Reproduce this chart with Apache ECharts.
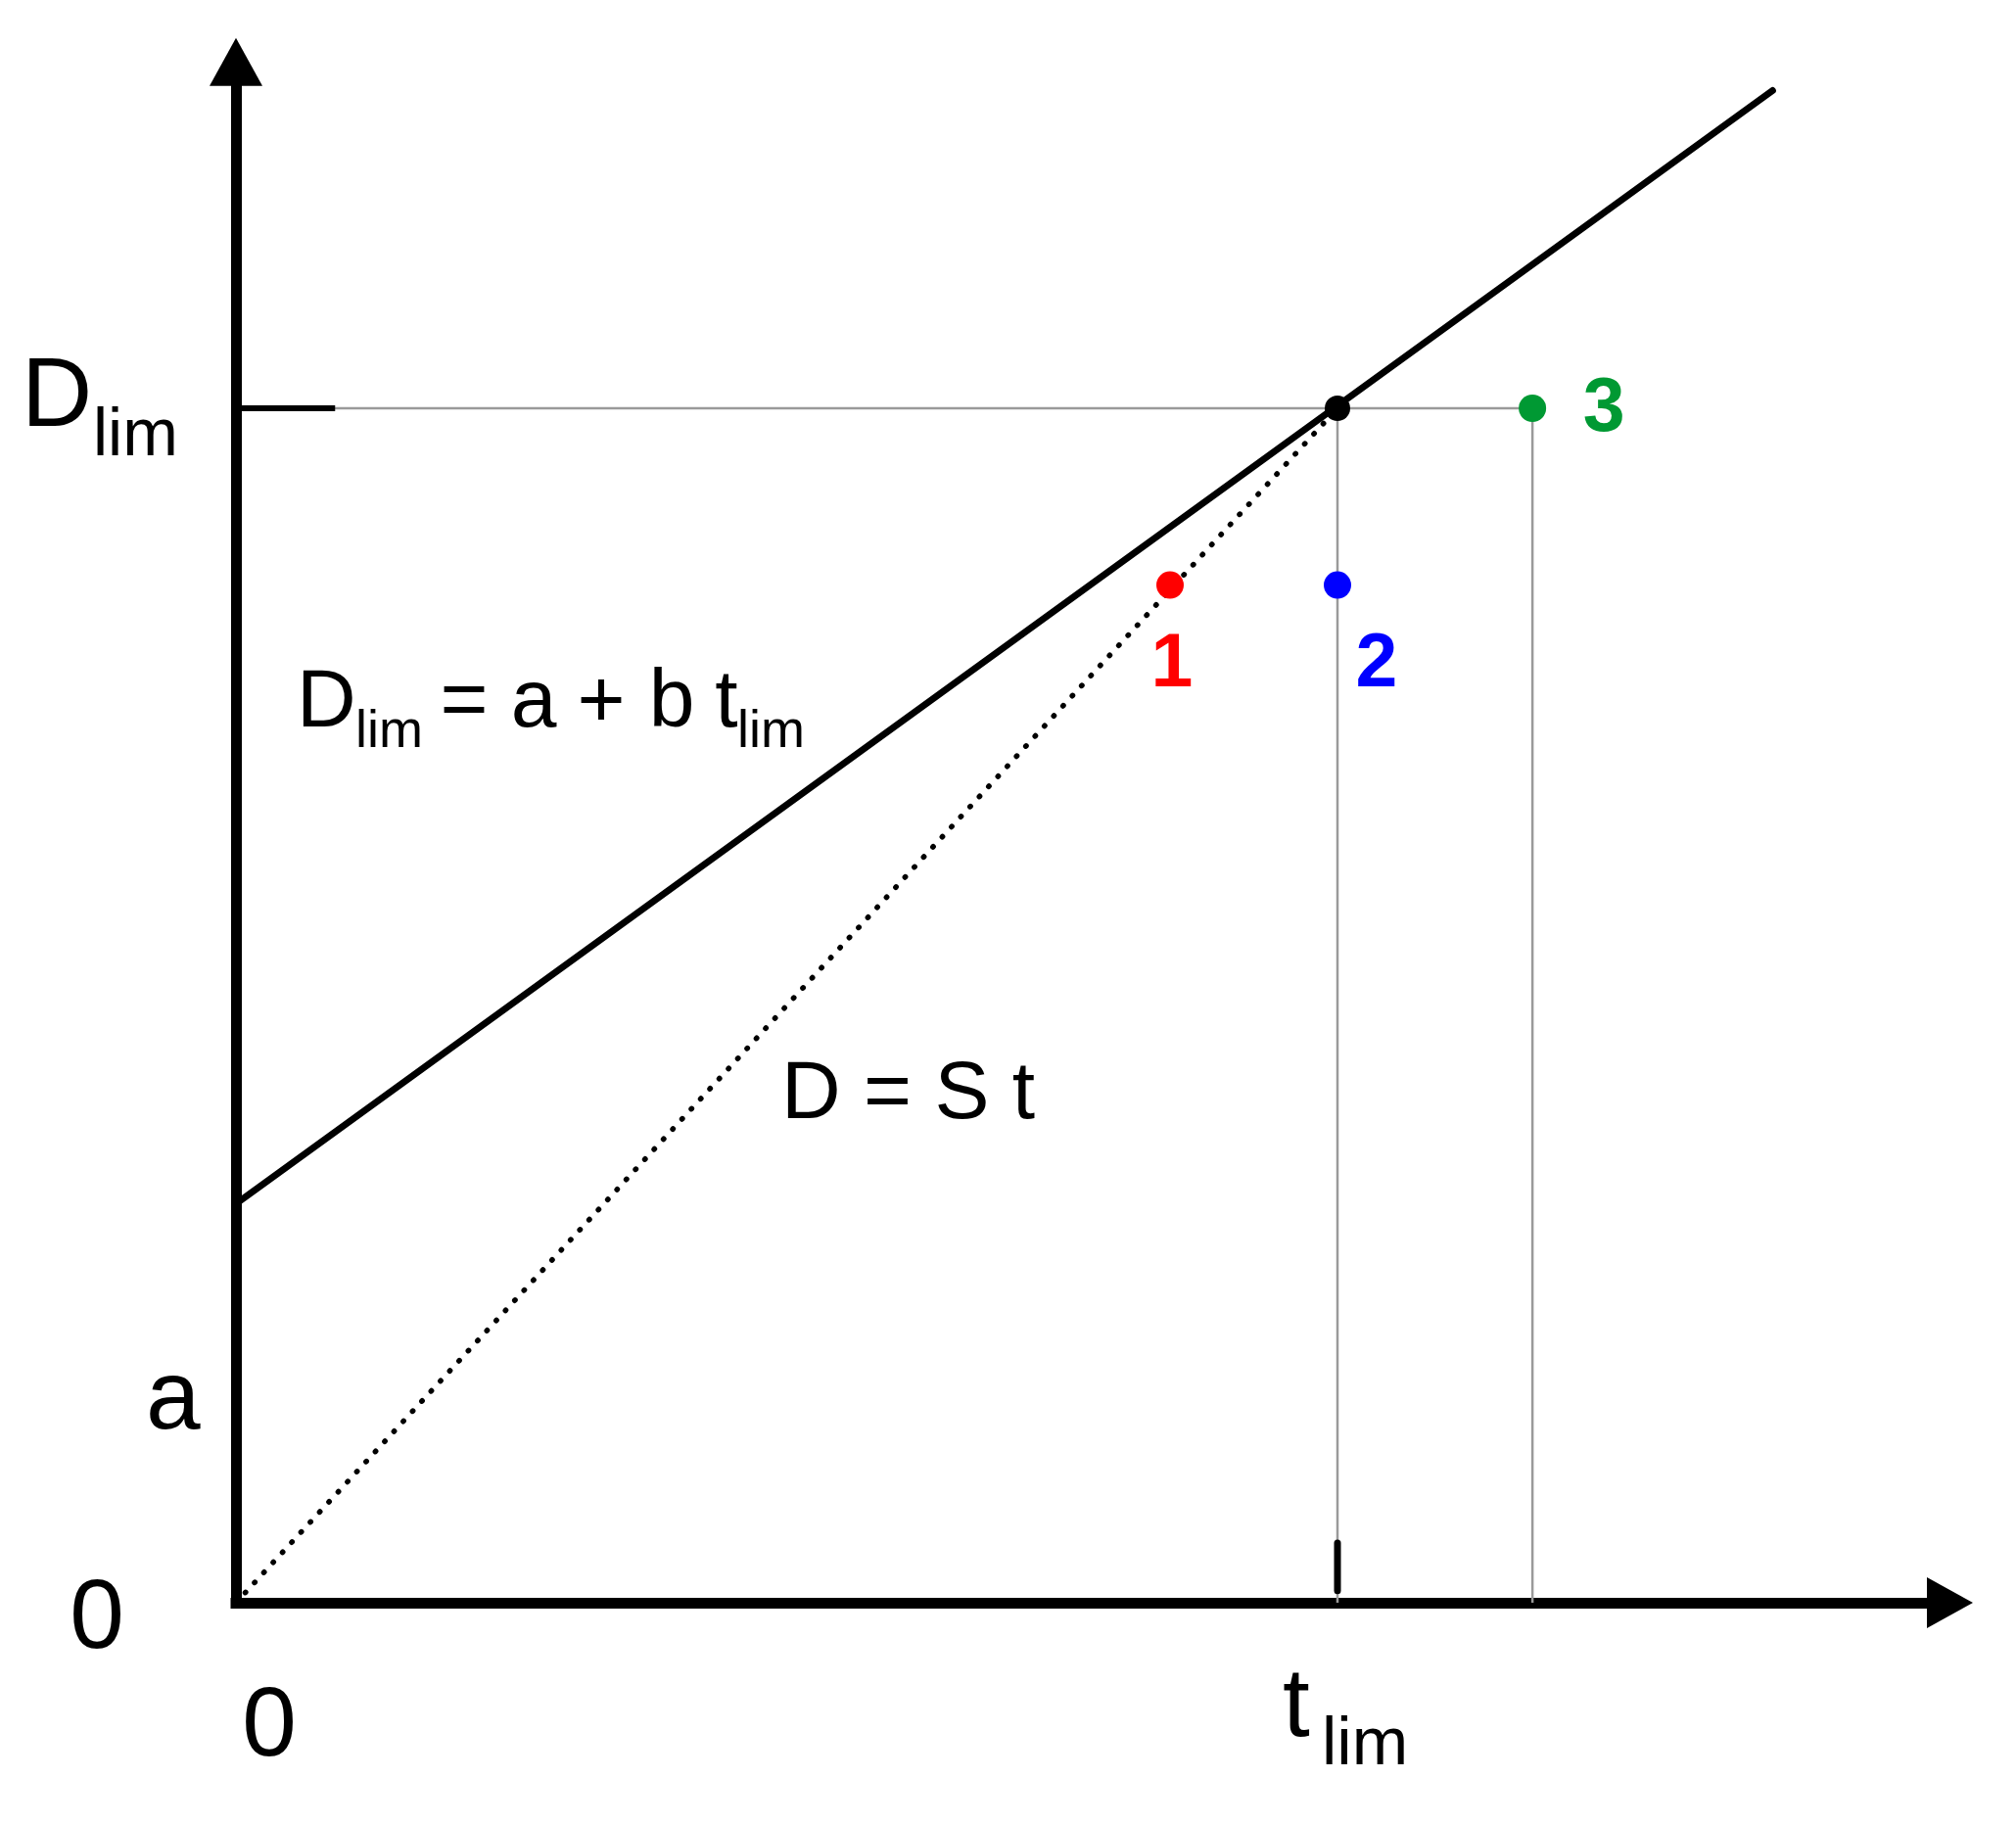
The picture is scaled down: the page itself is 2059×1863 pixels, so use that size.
<!DOCTYPE html>
<html>
<head>
<meta charset="utf-8">
<title>D_lim = a + b t_lim</title>
<script src="https://cdn.jsdelivr.net/npm/echarts@6/dist/echarts.min.js"></script>
<style>
  html, body { margin: 0; padding: 0; background: #fff; }
  #chart { width: 2059px; height: 1863px; }
</style>
</head>
<body>
<div id="chart"></div>
<script>
// values, with t_lim and D_lim both taken as 10
const tLim = 10;
const dLim = 10;
const limitT = [0, 13.95];          // solid line  D_lim = a + b t_lim
const limitD = [3.34, 12.66];
const slopeT = [0, 10];             // dotted line D = S t
const slopeD = [0, 10];
const pointNames = ["1", "2", "3"];
const pointT = [8.48, 10, 11.77];
const pointD = [8.52, 8.52, 10];
const xMax = 15.56;
const yMax = 12.9;

// styling only
const pointColors = ["#ff0000", "#0000ff", "#009933"];
const labelOffsets = [[2, 82], [40, 82], [73, 2]];
const FONT = "'Liberation Sans', Arial, sans-serif";

const chart = echarts.init(document.getElementById("chart"));

// text placed by its baseline (canvas 'middle' sits ~0.3465em above it)
function txt(text, x, baseline, size, align) {
  return {
    type: "text",
    x: x,
    y: baseline - 0.3465 * size,
    style: {
      text: text,
      fontSize: size,
      fontFamily: FONT,
      fill: "#000",
      align: align || "left",
      verticalAlign: "middle",
    },
  };
}

function seg(points, color, width, extra) {
  return Object.assign(
    {
      type: "line",
      data: points,
      symbol: "none",
      silent: true,
      lineStyle: { color: color, width: width },
      z: 2,
    },
    extra || {}
  );
}

const guides = [
  [[0, dLim], [pointT[2], dLim]],
  [[tLim, 0], [tLim, dLim]],
  [[pointT[2], 0], [pointT[2], dLim]],
];

const series = [];
guides.forEach((g) => series.push(seg(g, "#9a9a9a", 2.5, { z: 1 })));

// tick marks on both axes
series.push(seg([[0, dLim], [0.9, dLim]], "#000", 6, { z: 3 }));
series.push(
  seg([[tLim, 0.1], [tLim, 0.5]], "#000", 7, {
    z: 3,
    lineStyle: { color: "#000", width: 7, cap: "round" },
  })
);

// D_lim = a + b t_lim
series.push(
  seg(
    limitT.map((t, i) => [t, limitD[i]]),
    "#000",
    7,
    { z: 4, lineStyle: { color: "#000", width: 7, cap: "round" } }
  )
);

// D = S t
series.push(
  seg(
    slopeT.map((t, i) => [t, slopeD[i]]),
    "#000",
    5.5,
    { z: 4, lineStyle: { color: "#000", width: 5.5, type: [0.5, 13.5], cap: "round" } }
  )
);

// intersection
series.push({
  type: "scatter",
  data: [[tLim, dLim]],
  symbolSize: 26,
  itemStyle: { color: "#000", opacity: 1 },
  z: 5,
});

// points 1, 2, 3
series.push({
  type: "scatter",
  z: 5,
  symbolSize: 28,
  data: pointNames.map((n, i) => ({
    name: n,
    value: [pointT[i], pointD[i]],
    itemStyle: { color: pointColors[i], opacity: 1 },
    label: {
      show: true,
      position: "inside",
      offset: labelOffsets[i],
      formatter: "{b}",
      color: pointColors[i],
      fontSize: 77,
      fontWeight: "bold",
      fontFamily: FONT,
    },
  })),
});

const axisLine = {
  show: true,
  onZero: true,
  symbol: ["none", "triangle"],
  lineStyle: { color: "#000", width: 11, cap: "square" },
};

const option = {
  animation: false,
  backgroundColor: "#fff",
  grid: { left: 241, right: 67.5, top: 63.2, bottom: 226 },
  xAxis: {
    type: "value",
    min: 0,
    max: xMax,
    axisLine: Object.assign({}, axisLine, { symbolSize: [52, 47] }),
    axisTick: { show: false },
    axisLabel: { show: false },
    splitLine: { show: false },
  },
  yAxis: {
    type: "value",
    min: 0,
    max: yMax,
    axisLine: Object.assign({}, axisLine, { symbolSize: [54, 49] }),
    axisTick: { show: false },
    axisLabel: { show: false },
    splitLine: { show: false },
  },
  graphic: [
    // axis labels
    txt("D", 22, 442, 100),
    txt("lim", 95, 470, 68),
    txt("a", 149, 1466, 100),
    txt("0", 99, 1690, 100, "center"),
    txt("0", 275, 1800, 100, "center"),
    txt("t", 1310, 1780, 100),
    txt("lim", 1350, 1807, 69),
    // equations
    txt("D", 303, 748, 84),
    txt("lim", 363, 767, 54),
    txt("=", 474, 748, 84, "center"),
    txt("a", 545, 748, 84, "center"),
    txt("+", 614, 748, 84, "center"),
    txt("b", 686, 748, 84, "center"),
    txt("t", 742, 748, 84, "center"),
    txt("lim", 753, 767, 54),
    txt("D = S t", 798, 1148, 84),
  ],
  series: series,
};

chart.setOption(option, true);
</script>
</body>
</html>
